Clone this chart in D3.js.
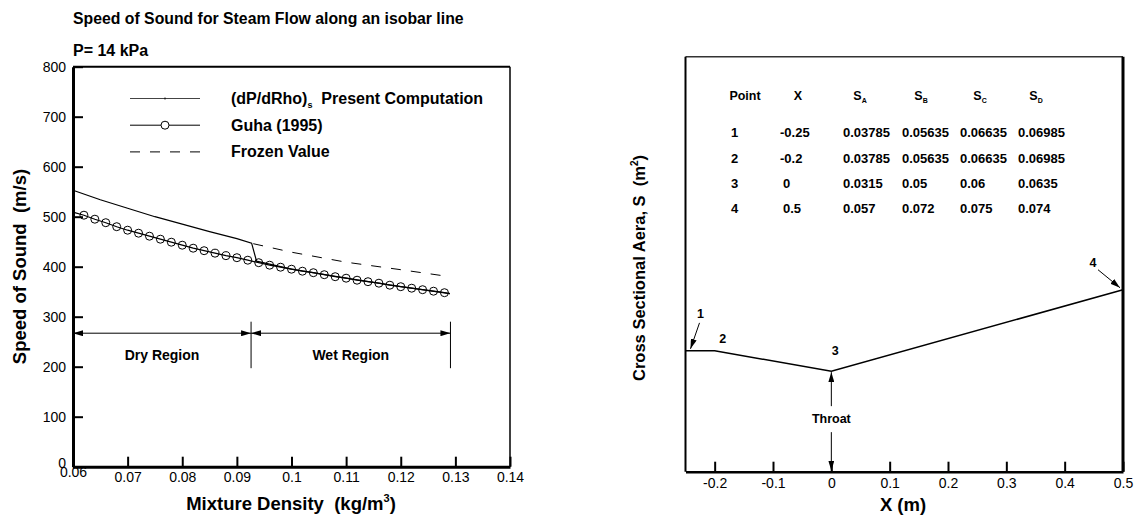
<!DOCTYPE html>
<html>
<head>
<meta charset="utf-8">
<script src="https://cdn.jsdelivr.net/npm/d3@7"></script>
<style>
  body { margin: 0; background: #fff; }
  svg { font-family: "Liberation Sans", Arial, sans-serif; }
</style>
</head>
<body>
<svg id="chart" width="1136" height="517"></svg>
<script>
// ---- left chart data (speed of sound) ----
const densityTicks = [0.06, 0.07, 0.08, 0.09, 0.1, 0.11, 0.12, 0.13, 0.14];
const speedTicks = [0, 100, 200, 300, 400, 500, 600, 700, 800];

const guhaX = [0.06, 0.062, 0.064, 0.066, 0.068, 0.07, 0.072, 0.074, 0.076, 0.078, 0.08,
  0.082, 0.084, 0.086, 0.088, 0.09, 0.092, 0.094, 0.096, 0.098, 0.1, 0.102, 0.104,
  0.106, 0.108, 0.11, 0.112, 0.114, 0.116, 0.118, 0.12, 0.122, 0.124, 0.126, 0.128, 0.129];
const guhaY = [509, 503, 495, 488, 480, 473, 467, 461, 455, 449, 443,
  437, 432, 427, 422, 418, 413, 408, 403, 399, 395, 391, 388,
  384, 380, 377, 373, 370, 367, 363, 360, 357, 354, 351, 348, 346];

const presentX = [0.06, 0.065, 0.07, 0.075, 0.08, 0.085, 0.09, 0.0927, 0.0936, 0.1, 0.11, 0.12, 0.129];
const presentY = [553, 534, 517, 500, 485, 470, 456, 447, 411, 395, 377, 360, 346];

const frozenX = [0.093, 0.1, 0.11, 0.12, 0.129];
const frozenY = [446, 429, 409, 394, 380];

const regionBounds = [0.06, 0.0926, 0.1291];
const regionNames = ["Dry Region", "Wet Region"];
const regionArrowY = 267;
const regionLineTop = 290, regionLineBottom = 197;

// ---- right chart data (nozzle geometry) ----
const pointIds = ["1", "2", "3", "4"];
const pointX = [-0.25, -0.2, 0, 0.5];
const sA = [0.03785, 0.03785, 0.0315, 0.057];
const sB = [0.05635, 0.05635, 0.05, 0.072];
const sC = [0.06635, 0.06635, 0.06, 0.075];
const sD = [0.06985, 0.06985, 0.0635, 0.074];
const xTicksR = [-0.2, -0.1, 0, 0.1, 0.2, 0.3, 0.4, 0.5];

const FONT = "Liberation Sans, Arial, sans-serif";
const svg = d3.select("#chart");

// arrow head marker
const defs = svg.append("defs");
defs.append("marker")
  .attr("id", "arrow")
  .attr("viewBox", "0 0 10 6")
  .attr("refX", 10).attr("refY", 3)
  .attr("markerWidth", 10).attr("markerHeight", 6)
  .attr("markerUnits", "userSpaceOnUse")
  .attr("orient", "auto-start-reverse")
  .append("path").attr("d", "M0,0L10,3L0,6Z").attr("fill", "#000");

// ================= LEFT CHART =================
const L = { left: 73, top: 66.7, right: 510, bottom: 466.7 };
const xL = d3.scaleLinear().domain([0.06, 0.14]).range([L.left, L.right]);
const yL = d3.scaleLinear().domain([0, 800]).range([L.bottom, L.top]);

const gL = svg.append("g");

gL.append("text").attr("x", 73).attr("y", 23.5)
  .attr("font-size", 15.8).attr("font-weight", "bold")
  .text("Speed of Sound for Steam Flow along an isobar line");
gL.append("text").attr("x", 73).attr("y", 55.5)
  .attr("font-size", 16).attr("font-weight", "bold")
  .text("P= 14 kPa");

// frame
gL.append("line").attr("x1", L.left).attr("x2", L.right).attr("y1", L.top).attr("y2", L.top)
  .attr("stroke", "#000").attr("stroke-width", 2);
gL.append("line").attr("x1", L.right).attr("x2", L.right).attr("y1", L.top).attr("y2", L.bottom)
  .attr("stroke", "#000").attr("stroke-width", 1.5);

// x axis (ticks inward)
const axL = gL.append("g").attr("transform", `translate(0,${L.bottom})`)
  .call(d3.axisBottom(xL).tickValues(densityTicks).tickSizeInner(-10).tickSizeOuter(0)
    .tickPadding(12).tickFormat(d => String(d)));
axL.select(".domain").attr("stroke-width", 3);
axL.selectAll(".tick line").attr("stroke-width", 2);
axL.selectAll(".tick text").attr("font-size", 14).attr("font-family", FONT)
  .attr("fill", "#000").attr("dy", d => d === 0.06 ? "-0.1em" : "0.25em");

// y axis
const ayL = gL.append("g").attr("transform", `translate(${L.left},0)`)
  .call(d3.axisLeft(yL).tickValues(speedTicks).tickSizeInner(-10).tickSizeOuter(0).tickPadding(7));
ayL.select(".domain").attr("stroke-width", 3);
ayL.selectAll(".tick line").attr("stroke-width", 2);
ayL.selectAll(".tick text").attr("font-size", 14).attr("font-family", FONT)
  .attr("fill", "#000").attr("dy", d => d === 0 ? "0.05em" : "0.32em");

gL.append("text").attr("transform", `translate(26,266.5) rotate(-90)`)
  .attr("text-anchor", "middle").attr("font-size", 18.5).attr("font-weight", "bold")
  .attr("xml:space", "preserve")
  .text("Speed of Sound  (m/s)");

const xt = gL.append("text").attr("x", 291).attr("y", 510)
  .attr("text-anchor", "middle").attr("font-size", 18.5).attr("font-weight", "bold")
  .attr("xml:space", "preserve");
xt.append("tspan").text("Mixture Density  (kg/m");
xt.append("tspan").attr("font-size", 11).attr("dy", -8).text("3");
xt.append("tspan").attr("dy", 8).text(")");

const line = d3.line().x(d => xL(d[0])).y(d => yL(d[1]));

// frozen (dashed)
gL.append("path").datum(d3.zip(frozenX, frozenY)).attr("d", line)
  .attr("fill", "none").attr("stroke", "#000").attr("stroke-width", 1).attr("stroke-dasharray", "10,10");

// guha
const guha = d3.zip(guhaX, guhaY);
gL.append("path").datum(guha).attr("d", line)
  .attr("fill", "none").attr("stroke", "#000").attr("stroke-width", 1.2);
gL.selectAll(".guha").data(guha.slice(1, -1)).enter().append("circle")
  .attr("cx", d => xL(d[0])).attr("cy", d => yL(d[1])).attr("r", 4)
  .attr("fill", "none").attr("stroke", "#000").attr("stroke-width", 1);

// present computation
gL.append("path").datum(d3.zip(presentX, presentY)).attr("d", line)
  .attr("fill", "none").attr("stroke", "#000").attr("stroke-width", 1.2);

// dry / wet regions
regionNames.forEach((name, i) => {
  const x0 = xL(regionBounds[i]), x1 = xL(regionBounds[i + 1]);
  gL.append("line").attr("x1", x0).attr("x2", x1)
    .attr("y1", yL(regionArrowY)).attr("y2", yL(regionArrowY))
    .attr("stroke", "#000").attr("stroke-width", 1)
    .attr("marker-start", "url(#arrow)").attr("marker-end", "url(#arrow)");
  gL.append("text").attr("x", (x0 + x1) / 2).attr("y", yL(regionArrowY) + 27)
    .attr("text-anchor", "middle").attr("font-size", 14).attr("font-weight", "bold").text(name);
});
regionBounds.slice(1).forEach(b => {
  gL.append("line").attr("x1", xL(b)).attr("x2", xL(b))
    .attr("y1", yL(regionLineTop)).attr("y2", yL(regionLineBottom))
    .attr("stroke", "#000").attr("stroke-width", 1);
});

// legend
const legend = [
  { label: "(dP/dRho)", sub: "s", rest: "  Present Computation", type: "present" },
  { label: "Guha (1995)", type: "guha" },
  { label: "Frozen Value", type: "frozen" }
];
legend.forEach((d, i) => {
  const y = 98.5 + i * 26.7;
  gL.append("line").attr("x1", 130).attr("x2", 200).attr("y1", y).attr("y2", y)
    .attr("stroke", d.type === "present" ? "#444" : "#000").attr("stroke-width", 1)
    .attr("stroke-dasharray", d.type === "frozen" ? "10,10" : null);
  if (d.type === "guha") {
    gL.append("circle").attr("cx", 165).attr("cy", y).attr("r", 4)
      .attr("fill", "#fff").attr("stroke", "#000");
  }
  if (d.type === "present") {
    gL.append("line").attr("x1", 165).attr("x2", 165).attr("y1", y - 1).attr("y2", y + 1)
      .attr("stroke", "#000");
  }
  const t = gL.append("text").attr("x", 231).attr("y", y + 5.5)
    .attr("font-size", 16).attr("font-weight", "bold").attr("xml:space", "preserve");
  t.append("tspan").text(d.label);
  if (d.sub) {
    t.append("tspan").attr("font-size", 9).attr("dy", 4).text(d.sub);
    t.append("tspan").attr("dy", -4).text(d.rest);
  }
});

// ================= RIGHT CHART =================
const R = { left: 685.5, top: 56.7, right: 1123, bottom: 471.7 };
const xR = d3.scaleLinear().domain([-0.25, 0.5]).range([R.left, R.right]);
const yR = d3.scaleLinear().domain([0, 0.13]).range([R.bottom, R.top]);
const gR = svg.append("g");

gR.append("line").attr("x1", R.left).attr("x2", R.right).attr("y1", R.top).attr("y2", R.top)
  .attr("stroke", "#333").attr("stroke-width", 1.5);
gR.append("line").attr("x1", R.right).attr("x2", R.right).attr("y1", R.top).attr("y2", R.bottom)
  .attr("stroke", "#000").attr("stroke-width", 3);
gR.append("line").attr("x1", R.left).attr("x2", R.left).attr("y1", R.top).attr("y2", R.bottom)
  .attr("stroke", "#000").attr("stroke-width", 2);

const axR = gR.append("g").attr("transform", `translate(0,${R.bottom})`)
  .call(d3.axisBottom(xR).tickValues(xTicksR).tickSizeInner(-10).tickSizeOuter(0)
    .tickPadding(6).tickFormat(d => String(d)));
axR.select(".domain").attr("stroke-width", 2.5);
axR.selectAll(".tick line").attr("stroke-width", 2);
axR.selectAll(".tick text").attr("font-size", 14).attr("font-family", FONT)
  .attr("fill", "#000");

gR.append("text").attr("x", 903).attr("y", 511)
  .attr("text-anchor", "middle").attr("font-size", 18.5).attr("font-weight", "bold").text("X (m)");

const ytR = gR.append("text").attr("transform", `translate(645,268) rotate(-90)`)
  .attr("text-anchor", "middle").attr("font-size", 16.5).attr("font-weight", "bold")
  .attr("xml:space", "preserve");
ytR.append("tspan").text("Cross Sectional Aera, S  (m");
ytR.append("tspan").attr("font-size", 10).attr("dy", -7).text("2");
ytR.append("tspan").attr("dy", 7).text(")");

// area line (S_A)
gR.append("path").datum(d3.zip(pointX, sA))
  .attr("d", d3.line().x(d => xR(d[0])).y(d => yR(d[1])))
  .attr("fill", "none").attr("stroke", "#000").attr("stroke-width", 1.5);

// table
const colX = [731, 780, 843, 902, 960, 1018];
const heads = [["Point"], ["X"], ["S", "A"], ["S", "B"], ["S", "C"], ["S", "D"]];
const headCenters = [745, 798, 860, 921, 980, 1036];
heads.forEach((h, i) => {
  const t = gR.append("text").attr("x", headCenters[i]).attr("y", 99.5)
    .attr("text-anchor", "middle").attr("font-size", 12.5).attr("font-weight", "bold");
  t.append("tspan").text(h[0]);
  if (h[1]) t.append("tspan").attr("font-size", 7).attr("dy", 3).text(h[1]);
});
pointIds.forEach((p, i) => {
  const y = 137.3 + i * 25.2;
  const cells = [p, String(pointX[i]), String(sA[i]), String(sB[i]), String(sC[i]), String(sD[i])];
  cells.forEach((c, j) => {
    gR.append("text").attr("x", colX[j] + (j === 1 && pointX[i] >= 0 ? 3 : 0)).attr("y", y)
      .attr("font-size", 13).attr("font-weight", "bold").text(c);
  });
});

// point annotations
const px = i => xR(pointX[i]), py = i => yR(sA[i]);
gR.append("text").attr("x", px(0) + 15).attr("y", py(0) - 33).attr("text-anchor", "middle")
  .attr("font-size", 12.5).attr("font-weight", "bold").text(pointIds[0]);
gR.append("line").attr("x1", px(0) + 14).attr("y1", py(0) - 28).attr("x2", px(0) + 5).attr("y2", py(0) - 2)
  .attr("stroke", "#000").attr("stroke-width", 1).attr("marker-end", "url(#arrow)");
gR.append("text").attr("x", px(1) + 8).attr("y", py(1) - 8).attr("text-anchor", "middle")
  .attr("font-size", 12.5).attr("font-weight", "bold").text(pointIds[1]);
gR.append("text").attr("x", px(2) + 4).attr("y", py(2) - 16).attr("text-anchor", "middle")
  .attr("font-size", 12.5).attr("font-weight", "bold").text(pointIds[2]);
gR.append("text").attr("x", px(3) - 30).attr("y", py(3) - 23).attr("text-anchor", "middle")
  .attr("font-size", 12.5).attr("font-weight", "bold").text(pointIds[3]);
gR.append("line").attr("x1", px(3) - 25).attr("y1", py(3) - 20).attr("x2", px(3) - 3).attr("y2", py(3) - 2)
  .attr("stroke", "#000").attr("stroke-width", 1).attr("marker-end", "url(#arrow)");

// throat
gR.append("text").attr("x", px(2)).attr("y", py(2) + 52).attr("text-anchor", "middle")
  .attr("font-size", 12.5).attr("font-weight", "bold").text("Throat");
gR.append("line").attr("x1", px(2)).attr("x2", px(2)).attr("y1", py(2) + 35).attr("y2", py(2) + 1)
  .attr("stroke", "#000").attr("stroke-width", 1).attr("marker-end", "url(#arrow)");
gR.append("line").attr("x1", px(2)).attr("x2", px(2)).attr("y1", py(2) + 61).attr("y2", R.bottom - 1)
  .attr("stroke", "#000").attr("stroke-width", 1).attr("marker-end", "url(#arrow)");
</script>
</body>
</html>
